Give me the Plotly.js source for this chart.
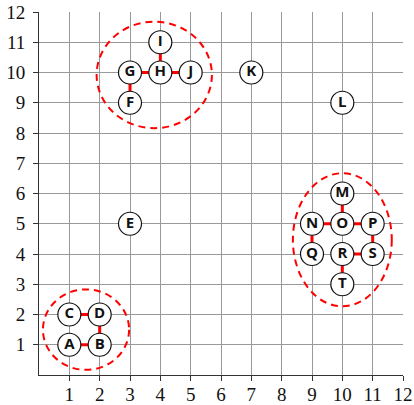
<!DOCTYPE html>
<html>
<head>
<meta charset="utf-8">
<script src="https://cdn.plot.ly/plotly-3.0.1.min.js"></script>
<style>
  html, body { margin: 0; padding: 0; background: #fff; }
  #graph { width: 414px; height: 405px; }
</style>
</head>
<body>
<div id="graph"></div>
<script>
// nodes of the graph
var nodeNames = ['A','B','C','D','E','F','G','H','I','J','K','L','M','N','O','P','Q','R','S','T'];
var nodeX = [1, 2, 1, 2, 3, 3, 3, 4, 4, 5, 7, 10, 10, 9, 10, 11, 9, 10, 11, 10];
var nodeY = [1, 1, 2, 2, 5, 9, 10, 10, 11, 10, 10, 9, 6, 5, 5, 5, 4, 4, 4, 3];

// edges as pairs of node names
var edgeFrom = ['A','C','D','F','G','H','H','M','N','O','N','P','R','R'];
var edgeTo   = ['B','D','B','G','H','I','J','O','O','P','Q','S','S','T'];

// dashed clusters (center and radii in data units)
var clusterCx = [1.55, 3.8, 10.0];
var clusterCy = [1.5, 9.92, 4.47];
var clusterRx = [1.42, 1.9, 1.63];
var clusterRy = [1.33, 1.76, 2.2];

var ticks = [1,2,3,4,5,6,7,8,9,10,11,12];

// build edge trace with gaps between segments
var ex = [], ey = [];
for (var i = 0; i < edgeFrom.length; i++) {
  var a = nodeNames.indexOf(edgeFrom[i]);
  var b = nodeNames.indexOf(edgeTo[i]);
  ex.push(nodeX[a], nodeX[b], null);
  ey.push(nodeY[a], nodeY[b], null);
}

var edges = {
  x: ex, y: ey,
  mode: 'lines',
  type: 'scatter',
  line: {color: '#ff0000', width: 3},
  hoverinfo: 'none'
};

var nodes = {
  x: nodeX, y: nodeY,
  text: nodeNames,
  mode: 'markers+text',
  type: 'scatter',
  textposition: 'middle center',
  textfont: {family: 'Open Sans', size: 15, color: '#111', weight: 'bold'},
  marker: {size: 23, color: '#fff', line: {color: '#111', width: 1.2}},
  hoverinfo: 'text'
};

var shapes = [];
for (var k = 0; k < clusterCx.length; k++) {
  shapes.push({
    type: 'circle',
    xref: 'x', yref: 'y',
    x0: clusterCx[k] - clusterRx[k], x1: clusterCx[k] + clusterRx[k],
    y0: clusterCy[k] - clusterRy[k], y1: clusterCy[k] + clusterRy[k],
    line: {color: '#ff0000', width: 2, dash: '7px,5px'}
  });
}

var axisStyle = {
  range: [0, 12],
  tickvals: ticks,
  ticktext: ticks.map(String),
  ticks: 'outside',
  ticklen: 5,
  tickcolor: '#333',
  showgrid: true,
  gridcolor: '#999',
  gridwidth: 1,
  zeroline: false,
  showline: true,
  linecolor: '#333',
  linewidth: 1,
  tickfont: {family: 'Liberation Serif', size: 19, color: '#111'},
  fixedrange: true
};

var layout = {
  width: 414,
  height: 405,
  margin: {l: 39, r: 11, t: 12, b: 30},
  showlegend: false,
  paper_bgcolor: '#fff',
  plot_bgcolor: '#fff',
  xaxis: Object.assign({}, axisStyle, {ticklabelstandoff: -3}),
  yaxis: Object.assign({}, axisStyle, {ticklabelstandoff: 4}),
  shapes: shapes
};

Plotly.newPlot('graph', [edges, nodes], layout, {displayModeBar: false, staticPlot: true});
</script>
</body>
</html>
